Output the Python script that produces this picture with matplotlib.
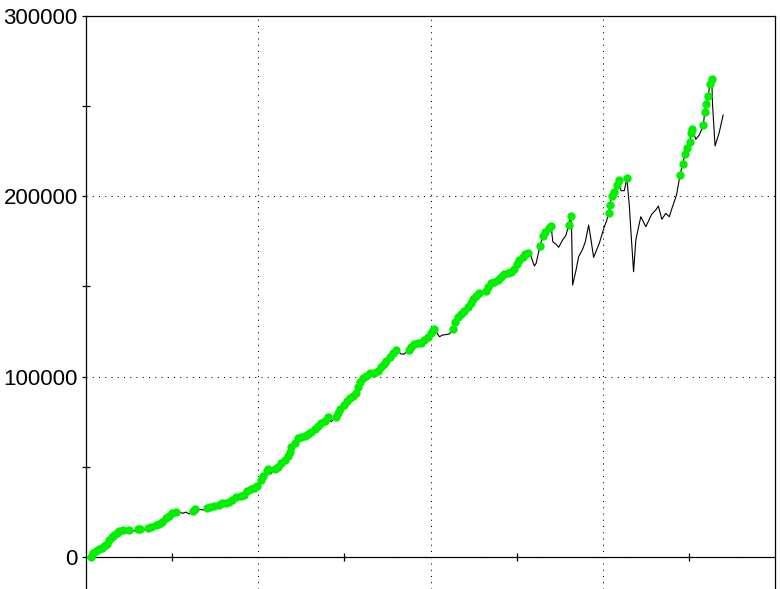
import matplotlib
matplotlib.use("Agg")
import matplotlib.pyplot as plt
from matplotlib.ticker import MultipleLocator, FixedLocator
import numpy as np

# trade number vs cumulative equity
trades = [2.9, 4.3, 5.8, 7.7, 9.3, 10.6, 12.0, 13.5, 15.1, 16.4, 17.8, 19.3,
          21.3, 23.2, 25.1, 27.8, 30.0, 31.2, 33.8, 35.8, 37.7, 40.6, 42.5, 44.4,
          46.4, 48.3, 50.2, 52.2, 54.1, 56.1, 58.0, 59.9, 61.9, 63.4, 66.7, 68.6,
          70.5, 71.9, 74.5, 77.3, 79.2, 81.2, 83.1, 85.0, 87.0, 89.9, 91.8, 93.7,
          95.7, 97.6, 99.5, 101.4, 103.0, 105.0, 105.7, 107.1, 109.6, 111.5, 113.4,
          115.4, 117.3, 118.3, 119.2, 121.2, 123.1, 125.0, 127.0, 128.9, 130.8,
          132.8, 134.7, 136.6, 138.6, 140.5, 142.4, 144.9, 146.3, 147.6, 149.6,
          151.5, 153.0, 155.0, 156.5, 157.9, 159.2, 160.8, 162.7, 164.6, 167.0,
          169.5, 171.4, 172.8, 174.3, 176.2, 178.1, 180.1, 183.0, 184.9, 187.4,
          188.8, 190.7, 192.6, 194.6, 196.5, 198.4, 200.4, 201.7, 202.3, 205.2,
          207.1, 211.0, 212.9, 214.3, 215.8, 217.8, 219.7, 221.6, 223.6, 224.9,
          226.5, 228.0, 230.0, 232.3, 233.6, 235.2, 237.1, 239.0, 241.0, 242.9,
          244.8, 246.8, 248.7, 250.0, 251.6, 253.5, 255.1, 256.4, 258.4, 260.3,
          261.3, 263.6, 265.1, 266.7, 268.6, 270.0, 271.0, 272.9, 274.4, 276.7,
          278.7, 280.2, 281.3, 281.9, 282.5, 284.5, 286.0, 288.3, 289.9, 291.8,
          293.2, 294.7, 298.0, 300.9, 302.2, 303.4, 304.2, 305.3, 306.7, 308.0,
          309.2, 310.6, 312.5, 314.0, 315.4, 316.3, 317.9, 319.2, 320.2, 322.1,
          325.0, 328.5, 330.8, 332.3, 334.3, 336.6, 338.6, 340.5, 342.8, 344.9,
          346.3, 347.8, 349.2, 350.6, 351.1, 352.1, 354.0, 356.0, 358.4, 359.2,
          360.2, 361.3, 362.1, 363.3, 363.7, 365.2, 367.5, 369.9]

equity = [0, 2050, 3510, 4440, 4820, 6100, 7210, 9430, 10920, 12200, 13140, 14580,
          14970, 13470, 14970, 14420, 15360, 15450, 14970, 15910, 16800, 17580, 18130, 19570,
          21460, 22740, 24230, 25120, 24900, 24230, 24900, 23840, 25510, 26450, 26300, 26060,
          27000, 27890, 28300, 28830, 29780, 30110, 30660, 31610, 33100, 33820, 34380, 36760,
          37540, 38090, 39370, 42500, 45000, 47700, 48630, 46020, 48800, 50070, 51960,
          53790, 56000, 58390, 60830, 63380, 65820, 66710, 67090, 68200, 69480,
          70980, 72640, 74140, 75410, 77460, 75020, 77600, 80020, 81900, 84280,
          86670, 87990, 89270, 90770, 94430, 97200, 99090, 100370, 101860, 102190,
          103300, 105190, 107020, 108850, 111070, 113290, 114780, 112560, 112560, 115000,
          116280, 118110, 118830, 118900, 120330, 122160, 124380, 125870, 126260, 122160,
          123100, 123650, 126400, 130140, 132910, 134750, 136580, 138790, 141010, 142900,
          144730, 146230, 146000, 147500, 149880, 151760, 152650, 153600, 155430, 156930,
          157650, 158200, 159530, 162470, 164690, 166520, 168020, 168400, 166520, 161360,
          162860, 172460, 178000, 180380, 182270, 183540, 174840, 173400, 171730, 175780,
          178560, 184090, 189080, 183150, 150820, 159140, 166520, 170620, 174840, 184090,
          175780, 166190, 173950, 183150, 186310, 190580, 195190, 200180, 202560, 206280,
          209050, 203120, 203120, 209990, 195190, 181320, 158200, 175780, 180380, 188700,
          183150, 190190, 192410, 194630, 187250, 190580, 188700, 194240, 200730, 211820,
          217750, 223460, 226620, 230280, 235270, 237160, 231610, 234000, 239380, 246920,
          251020, 255790, 262110, 264880, 251580, 227900, 234940, 245090]

trades = np.array(trades)
equity = np.array(equity)
# green dots mark new equity highs
is_high = equity >= np.maximum.accumulate(equity)

fig = plt.figure(figsize=(7.8, 5.89), dpi=100)
ax = fig.add_axes([86 / 780, 0, 689 / 780, 1 - 16 / 589])

ax.plot(trades, equity, color="black", lw=0.8, zorder=3)
ax.plot(trades[is_high], equity[is_high], "o", color="#00f000", ms=5,
        mec="#00f000", zorder=4)

ax.set_xlim(0, 400)
ax.set_ylim(-17745, 300000)

for s in ax.spines.values():
    s.set_linewidth(0.9)
ax.spines["bottom"].set_position(("data", 0))

ax.xaxis.set_major_locator(FixedLocator([100, 200, 300]))
ax.xaxis.set_minor_locator(FixedLocator([50, 150, 250, 350]))
ax.tick_params(axis="x", which="major", length=0, labelbottom=False)
ax.tick_params(axis="x", which="minor", direction="inout", length=6, width=0.9)

ax.yaxis.set_major_locator(MultipleLocator(100000))
ax.yaxis.set_minor_locator(FixedLocator([50000, 150000, 250000]))
ax.tick_params(axis="y", which="major", direction="out", length=3, width=0.9,
               pad=3, labelsize=16)
ax.tick_params(axis="y", which="minor", direction="inout", length=6, width=0.9)
for lab in ax.get_yticklabels():
    lab.set_fontfamily("Liberation Sans")

ax.grid(True, which="major", color="black", lw=0.75, linestyle=(0, (1, 5)))

fig.savefig("out.png", dpi=100)
